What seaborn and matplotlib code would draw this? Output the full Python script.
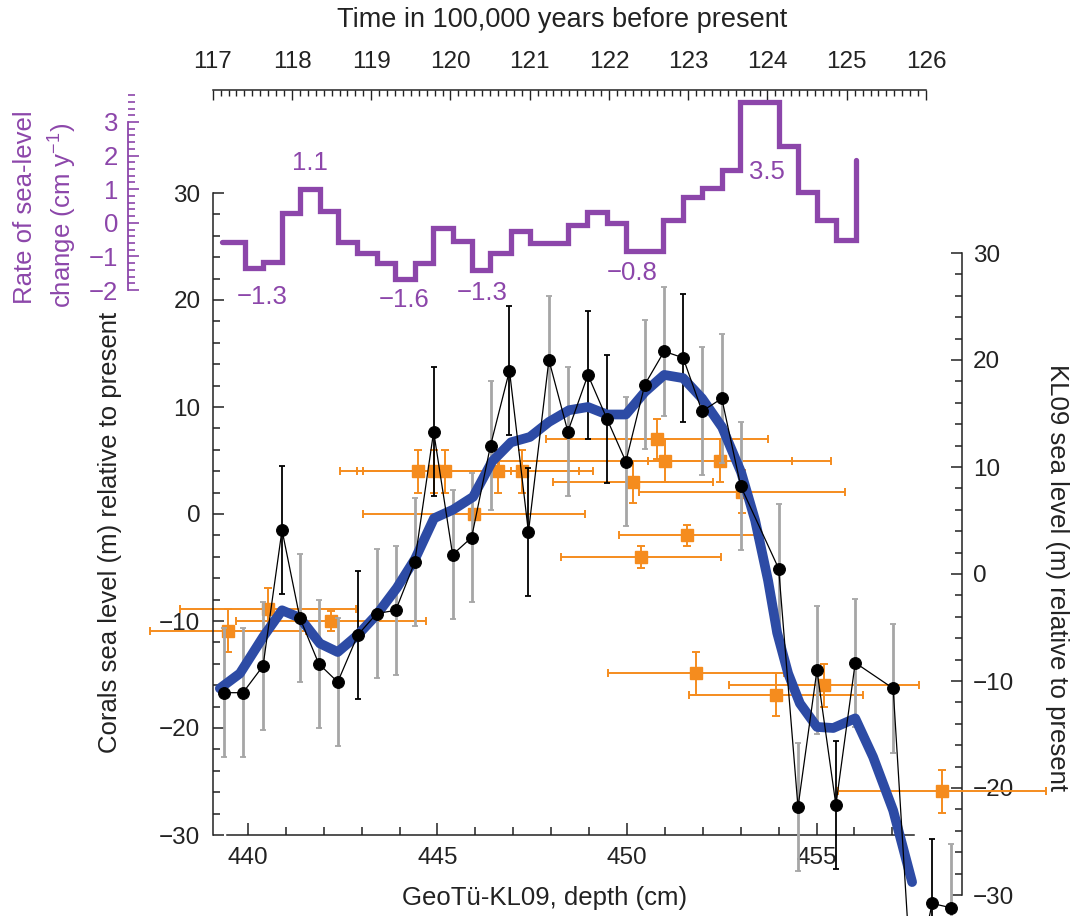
import matplotlib
matplotlib.use('Agg')
import matplotlib.pyplot as plt
import seaborn as sns
from matplotlib import font_manager
from matplotlib.ticker import MultipleLocator

# --- coral sea level (black dots, left axis) ---
coral_depth = [439.37, 439.87, 440.40, 440.90, 441.37, 441.87, 442.37, 442.90, 443.40,
               443.90, 444.40, 444.90, 445.40, 445.90, 446.40, 446.90, 447.40, 447.94,
               448.44, 448.97, 449.47, 449.97, 450.47, 450.98, 451.48, 451.98, 452.50,
               453.00, 454.00, 454.51, 455.01, 455.51, 456.02, 457.02, 457.52, 458.05,
               458.55]
coral_level = [-16.7, -16.7, -14.2, -1.5, -9.7, -14.0, -15.7, -11.3, -9.3,
               -9.0, -4.5, 7.7, -3.8, -2.2, 6.4, 13.4, -1.7, 14.4,
               7.7, 13.0, 8.9, 4.9, 12.1, 15.2, 14.6, 9.6, 10.8,
               2.6, -5.1, -27.4, -14.6, -27.2, -13.9, -16.3, -45.0, -36.4,
               -36.8]
coral_err = [6.0, 6.0, 6.0, 6.0, 6.0, 6.0, 6.0, 6.0, 6.0,
             6.0, 6.0, 6.0, 6.0, 6.0, 6.0, 6.0, 6.0, 6.0,
             6.0, 6.0, 6.0, 6.0, 6.0, 6.0, 6.0, 6.0, 6.0,
             6.0, 6.0, 6.0, 6.0, 6.0, 6.0, 6.0, 6.0, 6.0,
             6.0]
coral_bar = ['g', 'g', 'g', 'k', 'g', 'g', 'g', 'k', 'g',
             'g', 'g', 'k', 'g', 'g', 'g', 'k', 'k', 'g',
             'g', 'k', 'k', 'g', 'g', 'g', 'k', 'g', 'g',
             'g', 'g', 'g', 'g', 'k', 'g', 'g', 'k', 'k',
             'g']

# --- smoothed record (blue line, left axis) ---
smooth_depth = [439.26, 439.79, 440.40, 440.90, 441.37, 441.90, 442.37, 442.90, 443.40,
                443.93, 444.41, 444.91, 445.41, 445.94, 446.44, 446.94, 447.44, 447.94,
                448.47, 448.97, 449.47, 449.97, 450.47, 450.98, 451.48, 451.98, 452.51,
                453.01, 453.38, 453.72, 453.96, 454.25, 454.56, 455.01, 455.44, 456.02,
                456.49, 457.02, 457.52]
smooth_level = [-16.3, -14.9, -11.5, -9.0, -9.7, -12.1, -12.9, -11.3, -9.4,
                -6.9, -4.2, -0.4, 0.4, 1.6, 4.9, 6.7, 7.2, 8.6,
                9.7, 10.0, 9.3, 9.3, 11.4, 13.0, 12.7, 10.8, 8.1,
                3.9, -0.6, -6.2, -11.1, -14.9, -17.7, -19.9, -20.0, -19.1,
                -22.7, -27.7, -34.4]

# --- KL09 sea level (orange squares, right axis) ---
kl_depth = [439.47, 440.53, 442.19, 444.49, 444.91, 445.20, 446.60, 447.23, 445.96, 450.79,
            451.00, 452.45, 450.16, 453.03, 451.58, 450.37, 451.82, 453.93, 455.20, 458.31]
kl_level = [-5.3, -3.3, -4.4, 9.6, 9.6, 9.6, 9.6, 9.6, 5.6, 12.6,
            10.6, 10.6, 8.6, 7.7, 3.6, 1.6, -9.3, -11.3, -10.4, -20.3]
kl_xerr = [2.05, 2.33, 2.5, 2.06, 2.03, 2.16, 2.14, 1.87, 2.93, 2.93,
           4.38, 1.9, 2.1, 2.72, 1.79, 2.1, 2.32, 2.3, 2.5, 2.74]
kl_yerr = [2.0, 2.0, 0.9, 2.0, 2.0, 2.0, 2.0, 2.0, 0.5, 1.9,
           2.0, 2.0, 2.0, 2.0, 1.0, 1.0, 2.0, 2.0, 2.0, 2.0]

# --- rate of sea-level change (purple steps, top time axis) ---
rate_time = [117.12, 117.41, 117.63, 117.87, 118.10, 118.35, 118.58, 118.82, 119.07,
             119.30, 119.55, 119.78, 120.03, 120.27, 120.50, 120.77, 121.00, 121.24,
             121.48, 121.72, 121.97, 122.22, 122.45, 122.68, 122.93, 123.17, 123.42,
             123.65, 123.90, 124.15, 124.38, 124.63, 124.87, 125.12]
rate_value = [-0.57, -1.35, -1.17, 0.29, 1.0, 0.35, -0.57, -0.9, -1.2,
              -1.67, -1.2, -0.15, -0.54, -1.4, -0.9, -0.24, -0.6, -0.6,
              -0.07, 0.32, 0.0, -0.83, -0.83, 0.08, 0.77, 1.04, 1.57,
              3.6, 3.6, 2.29, 0.92, 0.08, -0.51, 1.87]
rate_labels = ['1.1', '\u22121.3', '\u22121.6', '\u22121.3', '\u22120.8', '3.5']
rate_label_time = [118.23, 117.62, 119.42, 120.40, 122.29, 123.99]
rate_label_value = [1.78, -2.21, -2.30, -2.09, -1.49, 1.51]

PURPLE = '#8C46AA'
BLUE = '#2D4BA5'
ORANGE = '#F58C1E'
GREY = '#A6A6A6'
TEXT = '#222222'

sns.set_style('ticks')
names = {f.name for f in font_manager.fontManager.ttflist}
family = 'Liberation Sans Narrow' if 'Liberation Sans Narrow' in names else 'Liberation Sans'
plt.rcParams['font.family'] = [family, 'DejaVu Sans']
plt.rcParams['mathtext.fontset'] = 'custom'
plt.rcParams['mathtext.rm'] = family
plt.rcParams['text.color'] = TEXT
FS = 17.5     # tick labels
LFS = 18.5    # axis labels

W, H = 1074, 916
fig = plt.figure(figsize=(W / 100, H / 100), dpi=100)


def box(x0, y0, x1, y1):
    """pixel box (top-left origin) -> figure fraction rect"""
    return [x0 / W, 1 - y1 / H, (x1 - x0) / W, (y1 - y0) / H]


# main axes: corals sea level vs depth
ax = fig.add_axes(box(213, 193, 914, 835))
ax_k = ax.twinx()
ax.set_zorder(2)
ax_k.set_zorder(1)
ax.patch.set_visible(False)

ax.set_xlim(439.08, 457.57)
ax.set_ylim(-30, 30)
ax_k.set_ylim(-24.4, 35.6)

# orange KL09 points
eb = ax_k.errorbar(kl_depth, kl_level, xerr=kl_xerr, yerr=kl_yerr, fmt='s', color=ORANGE,
                   ms=9, mec=ORANGE, elinewidth=1.4, capsize=3, capthick=1.4)
for art in [eb[0], *eb[1], *eb[2]]:
    art.set_clip_on(False)
ax_k.set_yticks([])
for s in ax_k.spines.values():
    s.set_visible(False)

# coral error bars
for d, v, e, c in zip(coral_depth, coral_level, coral_err, coral_bar):
    col = 'black' if c == 'k' else GREY
    lw = 1.3 if c == 'k' else 2.0
    b = ax.errorbar([d], [v], yerr=[e], fmt='none', ecolor=col, elinewidth=lw,
                    capsize=2.5, capthick=1.3, zorder=3)
    for art in b[1]:
        art.set_color('#555555' if c == 'g' else 'black')
    for art in [*b[1], *b[2]]:
        art.set_clip_on(False)

sns.lineplot(x=smooth_depth, y=smooth_level, ax=ax, color=BLUE, lw=7, sort=False,
             solid_capstyle='round', solid_joinstyle='round', zorder=4)
sns.lineplot(x=coral_depth, y=coral_level, ax=ax, color='black', lw=0.9, sort=False,
             marker='o', ms=8.5, mec='black', zorder=5)
for ln in ax.lines:
    ln.set_clip_on(False)

ax.spines['top'].set_visible(False)
ax.spines['right'].set_visible(False)
ax.spines['bottom'].set_bounds(439.45, 457.57)
for s in ['left', 'bottom']:
    ax.spines[s].set_linewidth(1.1)
    ax.spines[s].set_color(TEXT)
ax.xaxis.set_major_locator(MultipleLocator(5))
ax.xaxis.set_minor_locator(MultipleLocator(1))
ax.yaxis.set_major_locator(MultipleLocator(10))
ax.yaxis.set_minor_locator(MultipleLocator(2))
ax.tick_params(which='both', direction='in', colors=TEXT, width=1.1, labelsize=FS)
ax.tick_params(axis='y', which='major', length=8, pad=9)
ax.tick_params(axis='y', which='minor', length=5)
ax.tick_params(axis='x', which='major', length=9, pad=9)
ax.tick_params(axis='x', which='minor', length=6)

# right KL09 scale
ax_r = fig.add_axes(box(961, 253, 962, 895))
ax_r.set_ylim(-30, 30)
ax_r.patch.set_visible(False)
for s in ['left', 'top', 'bottom']:
    ax_r.spines[s].set_visible(False)
ax_r.spines['right'].set_linewidth(1.1)
ax_r.spines['right'].set_color(TEXT)
ax_r.set_xticks([])
ax_r.yaxis.tick_right()
ax_r.yaxis.set_major_locator(MultipleLocator(10))
ax_r.yaxis.set_minor_locator(MultipleLocator(2))
ax_r.tick_params(which='both', direction='in', colors=TEXT, width=1.1, labelsize=FS)
ax_r.tick_params(which='major', length=8, pad=8)
ax_r.tick_params(which='minor', length=5)

# top time axis + purple rate scale
ax_t = fig.add_axes(box(212.7, 90, 926, 290))
ax_t.set_zorder(3)
ax_t.patch.set_visible(False)
ax_t.set_xlim(117, 126)
ax_t.set_ylim(-2, 3.952)
sns.lineplot(x=rate_time, y=rate_value, ax=ax_t, color=PURPLE, lw=3.8, sort=False,
             drawstyle='steps-post', solid_joinstyle='miter')
for ln in ax_t.lines:
    ln.set_clip_on(False)
for lab, t, r in zip(rate_labels, rate_label_time, rate_label_value):
    ax_t.text(t, r, lab, color=PURPLE, fontsize=LFS, ha='center', va='center')

ax_t.spines['bottom'].set_visible(False)
ax_t.spines['right'].set_visible(False)
ax_t.spines['top'].set_linewidth(1.1)
ax_t.spines['top'].set_color(TEXT)
ax_t.spines['left'].set_position(('outward', 61))
ax_t.spines['left'].set_bounds(-2, 3)
ax_t.spines['left'].set_color(PURPLE)
ax_t.spines['left'].set_linewidth(1.3)
ax_t.xaxis.tick_top()
ax_t.xaxis.set_major_locator(MultipleLocator(1))
ax_t.xaxis.set_minor_locator(MultipleLocator(0.1))
ax_t.tick_params(axis='x', which='both', direction='in', colors=TEXT, width=1.0, labelsize=FS)
ax_t.tick_params(axis='x', which='major', length=7, pad=12)
ax_t.tick_params(axis='x', which='minor', length=4)
ax_t.set_yticks([-2, -1, 0, 1, 2, 3])
ax_t.yaxis.set_minor_locator(MultipleLocator(0.2))
ax_t.tick_params(axis='y', which='both', direction='in', colors=PURPLE, width=1.2,
                 labelsize=FS + 1, labelcolor=PURPLE)
ax_t.tick_params(axis='y', which='major', length=8, pad=7)
ax_t.tick_params(axis='y', which='minor', length=5)
ax_t.set_xlabel('')
ax_t.set_ylabel('')
ax.set_xlabel('')
ax.set_ylabel('')

# labels
fig.text(562 / W, 1 - 20 / H, 'Time in 100,000 years before present', fontsize=19.5,
         ha='center', va='center')
fig.text(545 / W, 1 - 898 / H, 'GeoTü-KL09, depth (cm)', fontsize=LFS, ha='center', va='center')
fig.text(110 / W, 1 - 532 / H, 'Corals sea level (m) relative to present', fontsize=LFS,
         rotation=90, ha='center', va='center')
fig.text(1057 / W, 1 - 577 / H, 'KL09 sea level (m) relative to present', fontsize=LFS,
         rotation=270, ha='center', va='center')
fig.text(25 / W, 1 - 207 / H, 'Rate of sea-level', fontsize=LFS, color=PURPLE,
         rotation=90, ha='center', va='center')
fig.text(62 / W, 1 - 215 / H, 'change (cm y$^{\u22121}$)', fontsize=LFS, color=PURPLE,
         rotation=90, ha='center', va='center')

fig.savefig('out.png', dpi=100)
